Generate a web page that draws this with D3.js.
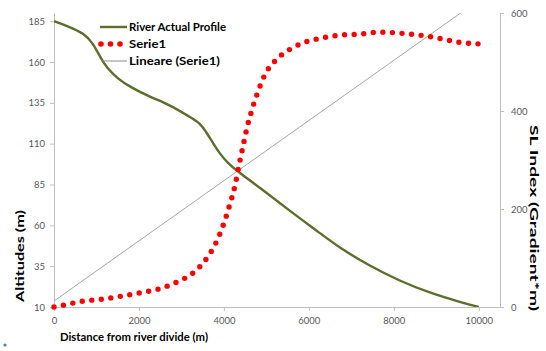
<!DOCTYPE html>
<html>
<head>
<meta charset="utf-8">
<script src="https://cdn.jsdelivr.net/npm/d3@7"></script>
<style>
  html, body { margin: 0; padding: 0; background: #fff; }
  svg { display: block; }
  text { font-family: Lato, "Open Sans", "Liberation Sans", sans-serif; }
</style>
</head>
<body>
<svg id="chart" width="546" height="351"></svg>
<script>
// River long profile: distance from divide (m) vs altitude (m)
const profileDistance = [0, 376, 682, 918, 1082, 1247, 1482, 1788, 2259, 2729, 3200, 3435, 3600, 3741, 3906, 4094, 4306, 4918, 5553, 6259, 6729, 7435, 8141, 8847, 9553, 10000];
const profileAltitude = [185, 181.4, 177.8, 171.7, 163.1, 156.3, 150.2, 144.7, 138.6, 133.7, 126.3, 122.7, 116.5, 110.4, 103.7, 98.2, 93.3, 81.7, 68.8, 55.3, 46.1, 35.1, 25.9, 18.6, 13.1, 10];

// Serie1: SL index (gradient*m) along the same distance axis
const slDistance = [0, 235, 682, 1129, 1576, 2024, 2471, 2894, 3294, 3600, 3835, 4000, 4141, 4259, 4353, 4447, 4541, 4659, 4800, 4965, 5224, 5576, 5859, 6306, 6753, 7224, 7671, 8118, 8588, 9035, 9482, 10000];
const slIndex = [0, 4, 12, 16, 22, 29, 37, 51, 71, 100, 135, 171, 210, 247, 288, 327, 365, 402, 439, 474, 504, 527, 539, 549, 555, 557, 561, 559, 555, 549, 541, 537];

// Linear trend of Serie1: [intercept, slope]
const trendCoefficients = [12.2, 0.0614];

// Axis ticks
const distanceTicks = [0, 2000, 4000, 6000, 8000, 10000];
const altitudeTicks = [10, 35, 60, 85, 110, 135, 160, 185];
const slTicks = [0, 200, 400, 600];

const legendLabels = ["River Actual Profile", "Serie1", "Lineare (Serie1)"];

const svg = d3.select("#chart");
const plot = { left: 54, right: 500, top: 13, bottom: 307 };

const x = d3.scaleLinear().domain([0, 10500]).range([plot.left, plot.right]);
const yAlt = d3.scaleLinear().domain([10, 190]).range([plot.bottom, plot.top]);
const ySL = d3.scaleLinear().domain([0, 600]).range([plot.bottom, plot.top]);

svg.append("defs").append("clipPath").attr("id", "plotClip")
  .append("rect")
  .attr("x", plot.left).attr("y", plot.top)
  .attr("width", plot.right - plot.left).attr("height", plot.bottom - plot.top);

const axisColor = "#bfbfbf";
const labelColor = "#595959";

function styleAxis(g) {
  g.select(".domain").attr("stroke", axisColor).attr("stroke-width", 1);
  g.selectAll(".tick line").attr("stroke", axisColor);
  g.selectAll(".tick text").attr("fill", labelColor)
    .style("font-size", "9.5px").style("font-family", "Lato, sans-serif");
}

svg.append("g")
  .attr("transform", `translate(0,${plot.bottom})`)
  .call(d3.axisBottom(x).tickValues(distanceTicks).tickSize(4).tickSizeOuter(0).tickPadding(6).tickFormat(d3.format("d")))
  .call(styleAxis);

svg.append("g")
  .attr("transform", `translate(${plot.left},0)`)
  .call(d3.axisLeft(yAlt).tickValues(altitudeTicks).tickSize(4).tickSizeOuter(0).tickPadding(5))
  .call(styleAxis);

svg.append("g")
  .attr("transform", `translate(${plot.right},0)`)
  .call(d3.axisRight(ySL).tickValues(slTicks).tickSize(4).tickSizeOuter(0).tickPadding(7))
  .call(styleAxis);

const chartArea = svg.append("g").attr("clip-path", "url(#plotClip)");

// Trend line across the plot width
const trendX = [0, 10500];
chartArea.append("path")
  .datum(trendX)
  .attr("fill", "none")
  .attr("stroke", "#a6a6a6")
  .attr("stroke-width", 1)
  .attr("d", d3.line()
    .x(d => x(d))
    .y(d => ySL(trendCoefficients[0] + trendCoefficients[1] * d)));

// River profile, smoothed
const profile = profileDistance.map((d, i) => [d, profileAltitude[i]]);
chartArea.append("path")
  .datum(profile)
  .attr("fill", "none")
  .attr("stroke", "#5b6e2c")
  .attr("stroke-width", 2.4)
  .attr("d", d3.line().curve(d3.curveBasis)
    .x(d => x(d[0])).y(d => yAlt(d[1])));

// SL index as a round-dot line
const sl = slDistance.map((d, i) => [d, slIndex[i]]);
svg.append("path")
  .datum(sl)
  .attr("fill", "none")
  .attr("stroke", "#ff0000")
  .attr("stroke-width", 5.4)
  .attr("stroke-linecap", "round")
  .attr("stroke-dasharray", "0 9.6")
  .attr("d", d3.line().curve(d3.curveMonotoneX)
    .x(d => x(d[0])).y(d => ySL(d[1])));

// Legend
const legend = svg.append("g");
legend.append("line").attr("x1", 100).attr("x2", 127).attr("y1", 27).attr("y2", 27)
  .attr("stroke", "#5b6e2c").attr("stroke-width", 2.4);
[101, 110.5, 120].forEach(cx => legend.append("circle")
  .attr("cx", cx).attr("cy", 44).attr("r", 2.8).attr("fill", "#ff0000"));
legend.append("line").attr("x1", 101).attr("x2", 127).attr("y1", 61).attr("y2", 61)
  .attr("stroke", "#8c8c8c").attr("stroke-width", 1);
const legendWidths = [97, 37, 91];
legendLabels.forEach((t, i) => legend.append("text")
  .attr("x", 129).attr("y", 27 + i * 17).attr("dy", "0.36em")
  .attr("textLength", legendWidths[i]).attr("lengthAdjust", "spacingAndGlyphs")
  .style("font-size", "11.5px").style("font-weight", "bold").attr("fill", "#000")
  .text(t));

// Axis titles
svg.append("text")
  .attr("x", 134).attr("y", 337).attr("dy", "0.35em")
  .attr("text-anchor", "middle")
  .attr("textLength", 148).attr("lengthAdjust", "spacingAndGlyphs")
  .style("font-size", "12px").style("font-weight", "bold").attr("fill", "#000")
  .text("Distance from river divide (m)");

svg.append("text")
  .attr("transform", "translate(20,256) rotate(-90)")
  .attr("dy", "0.35em").attr("text-anchor", "middle")
  .attr("textLength", 92).attr("lengthAdjust", "spacingAndGlyphs")
  .style("font-size", "11px").style("font-weight", "bold").attr("fill", "#000")
  .text("Altitudes (m)");

svg.append("text")
  .attr("transform", "translate(534,218) rotate(90)")
  .attr("dy", "0.35em").attr("text-anchor", "middle")
  .attr("textLength", 186).attr("lengthAdjust", "spacingAndGlyphs")
  .style("font-size", "11px").style("font-weight", "bold").attr("fill", "#000")
  .text("SL Index (Gradient*m)");

// Small marker at the lower left corner
svg.append("circle").attr("cx", 5).attr("cy", 345).attr("r", 1.6).attr("fill", "#4f81bd");
</script>
</body>
</html>
